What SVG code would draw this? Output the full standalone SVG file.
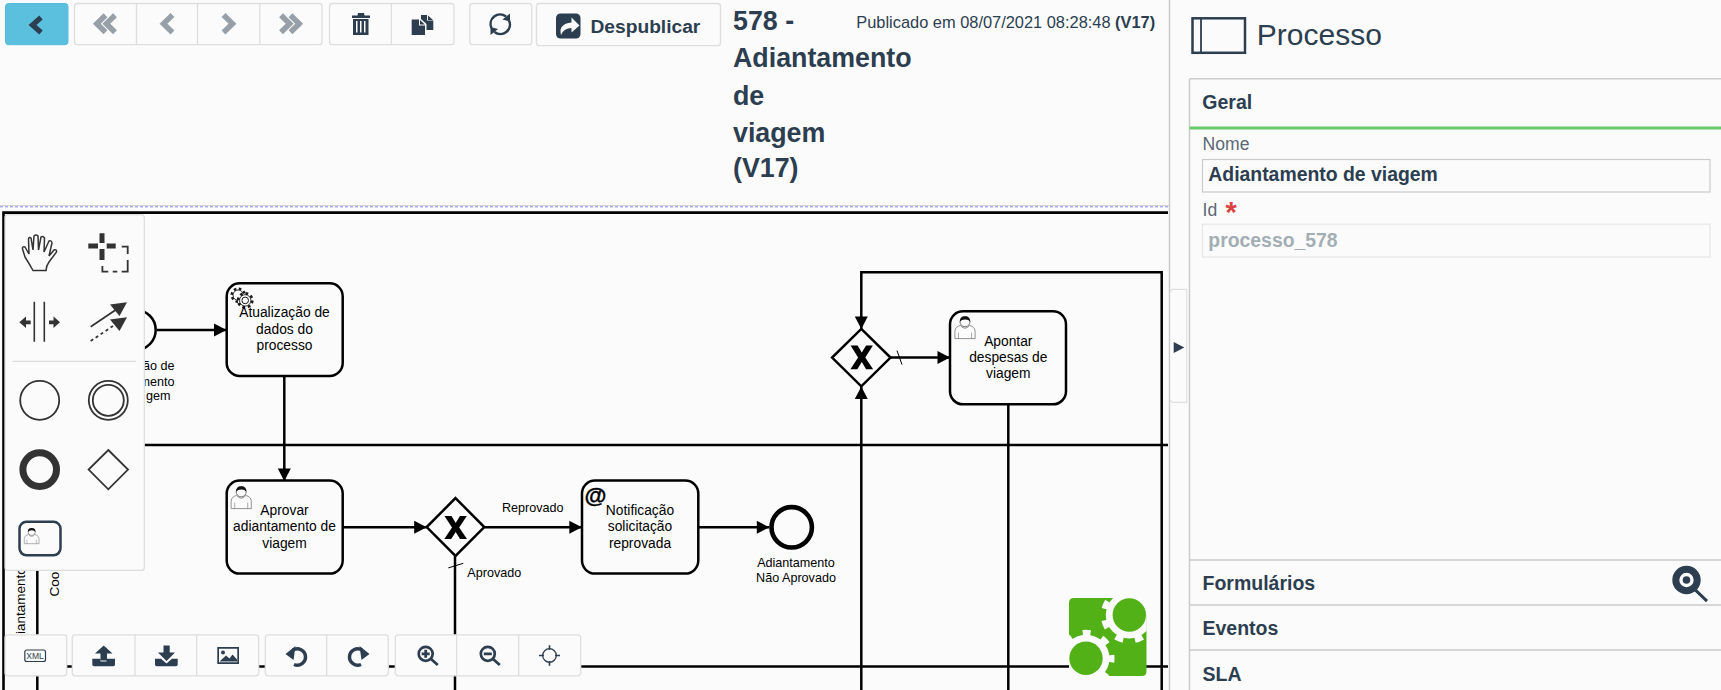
<svg xmlns="http://www.w3.org/2000/svg" width="1721" height="690" viewBox="0 0 1721 690">
<style>
text{font-family:"Liberation Sans",Arial,sans-serif;fill:#000}
.conn{fill:none;stroke:#000;stroke-width:2.5}
.thin{fill:none;stroke:#000;stroke-width:1}
.arr{marker-end:url(#arrow)}
.task{fill:#fbfbfb;stroke:#000;stroke-width:2.5}
.t{font-size:13.8px;text-anchor:middle}
.l{font-size:12.6px}
.lc{font-size:12.6px;text-anchor:middle}
.btn{fill:#fbfbfb;stroke:#dedede;stroke-width:1.3}
.div{stroke:#dedede;stroke-width:1.3}
.dark{fill:#2c3e50}
.dl{fill:none;stroke:#2c3e50}
.gray{fill:none;stroke:#97a0a8;stroke-width:5.5}
.nav{fill:none;stroke:#2c3e50;stroke-width:5.2}
.sec{font-size:19.5px;font-weight:bold;fill:#2c3e50}
.lab{font-size:17.6px;fill:#5b6875}
.title{font-size:26.8px;font-weight:bold;fill:#2c3e50}
.pline{stroke:#cbcbcb;stroke-width:1.5}
.pal{fill:none;stroke:#333;stroke-width:1.8}
</style>
<defs>
<marker id="arrow" markerUnits="userSpaceOnUse" markerWidth="13" markerHeight="14" viewBox="0 0 13 14" refX="13" refY="7" orient="auto"><path d="M0.5 0.5L13 7L0.5 13.5Z" fill="#000"/></marker>
<g id="person">
<path d="M0.4 23V15.5Q0.8 11 6 9.8L7.5 11.5Q10.5 14 13.5 11.5L15 9.8Q20.2 11 20.6 15.5V23Z" fill="#fbfbfb" stroke="#777" stroke-width=".8"/>
<path d="M4 23V17M17 23V17" stroke="#777" stroke-width=".6" fill="none"/>
<circle cx="10.5" cy="6.2" r="5" fill="#fbfbfb" stroke="#555" stroke-width=".8"/>
<path d="M5.4 6.2Q5 .6 10.5 .6Q16 .6 15.6 6.2Q14 3.6 10.5 3.8Q7 3.8 5.4 6.2Z" fill="#111"/>
</g>
<g id="chev2"><path d="M11.5 2.3L2.8 10.8L11.5 19.3M21 2.3L12.3 10.8L21 19.3"/></g>
<clipPath id="logoClip"><rect x="1069" y="598" width="77.7" height="78"/></clipPath>
</defs>
<rect width="1721" height="690" fill="#fbfbfb"/>

<g id="canvas-top">
<line x1="0" y1="205.5" x2="1169" y2="205.5" stroke="#d4d4d4" stroke-width="1"/>
<line x1="0" y1="206.8" x2="1169" y2="206.8" stroke="#8585ff" stroke-width="1" stroke-dasharray="3 2"/>
</g>

<g transform="translate(0,.6)">
<g id="canvas-frame">
<path d="M3.5 690V212H1168" fill="none" stroke="#000" stroke-width="2.6"/>
<line x1="37.3" y1="212" x2="37.3" y2="690" stroke="#000" stroke-width="2.5"/>
<line x1="37" y1="444.3" x2="1168" y2="444.3" stroke="#000" stroke-width="2.5"/>
<line x1="37" y1="666" x2="1168" y2="666" stroke="#000" stroke-width="2.5"/>
<text transform="translate(25,633.5) rotate(-90)" font-size="13.5">iantamento</text>
<text transform="translate(59.3,596) rotate(-90)" font-size="13.5">Coo</text>
</g>

<g id="connectors">
<path class="conn arr" d="M157 329.3H226.5"/>
<path class="conn arr" d="M284.3 375.3V480.5"/>
<path class="conn arr" d="M342.7 526.7H426.7"/>
<path class="conn arr" d="M484.3 526.7H581.8"/>
<path class="conn arr" d="M698.3 526.7H769.3"/>
<path class="conn" d="M455 555.3V690"/>
<path class="thin" d="M448.3 567.3L463.3 562.7"/>
<path class="conn arr" d="M1161.7 690V271.7H861.3V328.3"/>
<path class="conn arr" d="M861.3 690V386"/>
<path class="conn arr" d="M890.7 357H950"/>
<path class="thin" d="M897 350L902 364"/>
<path class="conn" d="M1008.3 403.7V690"/>
</g>

<g id="start-event">
<circle cx="135.7" cy="329.3" r="20" fill="#fbfbfb" stroke="#000" stroke-width="2.5"/>
<text class="l" x="174.5" y="369.3" text-anchor="end">ão de</text>
<text class="l" x="174.5" y="385" text-anchor="end">mento</text>
<text class="l" x="170.5" y="399.7" text-anchor="end">gem</text>
</g>

<g id="task-atualizacao">
<rect class="task" x="226.7" y="282.7" width="116" height="92.6" rx="13"/>
<circle cx="238.2" cy="294.6" r="6.4" fill="#fbfbfb" stroke="#1a1a1a" stroke-width="2.6" stroke-dasharray="2.5 2.5"/>
<circle cx="238.2" cy="294.6" r="5.2" fill="#fbfbfb" stroke="#1a1a1a" stroke-width=".9"/>
<circle cx="245.2" cy="299.8" r="7" fill="#fbfbfb" stroke="#1a1a1a" stroke-width="2.8" stroke-dasharray="2.75 2.75"/>
<circle cx="245.2" cy="299.8" r="5.7" fill="#fbfbfb" stroke="#1a1a1a" stroke-width=".9"/>
<circle cx="245.2" cy="299.8" r="3.3" fill="#fbfbfb" stroke="#1a1a1a" stroke-width="1"/>
<text class="t" x="284.5" y="316.7">Atualização de</text>
<text class="t" x="284.5" y="333.3">dados do</text>
<text class="t" x="284.5" y="349.3">processo</text>
</g>

<g id="task-aprovar">
<rect class="task" x="226.7" y="480" width="116" height="93" rx="13"/>
<use href="#person" x="230.7" y="485"/>
<text class="t" x="284.5" y="514">Aprovar</text>
<text class="t" x="284.5" y="530.7">adiantamento de</text>
<text class="t" x="284.5" y="547.3">viagem</text>
</g>

<g id="gateway-aprovacao">
<path d="M455.5 497.5L484.3 526.5L455.5 555.3L426.7 526.5Z" fill="#fbfbfb" stroke="#000" stroke-width="2.5"/>
<path d="M444.5 515.5H451.5L455.7 522.3L460 515.5H466.8L459.2 526.8L467 538.5H460L455.7 531.3L451.2 538.5H444.3L452 526.8Z" fill="#000"/>
<text class="l" x="502" y="511">Reprovado</text>
<text class="l" x="467.3" y="576">Aprovado</text>
</g>

<g id="task-notificacao">
<rect class="task" x="582" y="480" width="116.3" height="93" rx="13"/>
<text x="584.5" y="502.5" font-size="22.5" font-weight="bold" stroke="#000" stroke-width=".4">@</text>
<text class="t" x="640" y="514">Notificação</text>
<text class="t" x="640" y="530.7">solicitação</text>
<text class="t" x="640" y="547.3">reprovada</text>
</g>

<g id="end-event">
<circle cx="791.7" cy="526.7" r="20.2" fill="#fbfbfb" stroke="#000" stroke-width="4.6"/>
<text class="lc" x="796" y="566.7">Adiantamento</text>
<text class="lc" x="796" y="581.7">Não Aprovado</text>
</g>

<g id="gateway-despesas">
<path d="M861.3 328.3L890.5 357L861.3 385.7L832.1 357Z" fill="#fbfbfb" stroke="#000" stroke-width="2.5"/>
<path d="M850.6 345H857.6L861.8 352L866.1 345H872.9L865.3 356.8L873.1 368.7H866.1L861.8 361.5L857.3 368.7H850.4L858.1 356.8Z" fill="#000"/>
</g>

<g id="task-apontar">
<rect class="task" x="950" y="310.7" width="116" height="93" rx="13"/>
<use href="#person" x="954.5" y="315"/>
<text class="t" x="1008.3" y="345">Apontar</text>
<text class="t" x="1008.3" y="361">despesas de</text>
<text class="t" x="1008.3" y="377.7">viagem</text>
</g>
</g>

<g id="logo" clip-path="url(#logoClip)">
<path d="M1074 598H1129.300V615H1146.700V671Q1146.700 676 1141.700 676H1086V658.300H1069V603Q1069 598 1074 598Z" fill="#52b116"/>
<circle cx="1129.300" cy="615" r="23.500" fill="#fbfbfb"/>
<circle cx="1129.300" cy="615" r="25.500" fill="none" stroke="#fbfbfb" stroke-width="6" stroke-dasharray="8 12" stroke-dashoffset="14"/>
<circle cx="1129.300" cy="615" r="16.700" fill="#52b116"/>
<circle cx="1086" cy="658.300" r="23.500" fill="#fbfbfb"/>
<circle cx="1086" cy="658.300" r="25.500" fill="none" stroke="#fbfbfb" stroke-width="6" stroke-dasharray="8 12" stroke-dashoffset="4"/>
<circle cx="1086" cy="658.300" r="16.700" fill="#52b116"/>
</g>

<g id="palette">
<rect x="5" y="214.700" width="139.300" height="355.700" rx="3" fill="#fbfbfb" stroke="#dcdcdc" stroke-width="1.200"/>
<path class="pal" d="M42 270.500H33Q30 265 25 257L22.500 249Q22 246 25 247L29 254L28.500 239Q29 236.500 31 238L33 250L34 236Q36 234 38 236L38.500 250L41 237Q43 235.500 44.500 238L44 252L49 241Q51.500 240 52 243L49 256L54 250Q57 249 56.500 252L49 262Q46 266 46 270.500Z" style="stroke-width:1.500"/>
<path d="M88.300 246H98M106.700 246H115.700M102 233.300V243M102 249V260" stroke="#333" stroke-width="5" fill="none"/>
<path d="M121.700 246.700H127.700V254M127.700 260V271.700H121.700M117.300 271.700H112.700M108.300 271.700H102.400V266" fill="none" stroke="#333" stroke-width="1.800"/>
<path d="M34.300 301.700V341.700M44.300 301.700V341.700" stroke="#333" stroke-width="1.600"/>
<path d="M19.300 322.300L26 316.500V320.500H30.700V324.200H26V328Z M60 322.300L53.500 316.500V320.500H49V324.200H53.500V328Z" fill="#333"/>
<path d="M90.700 326.700L117 309" stroke="#333" stroke-width="1.800"/>
<path d="M127 302.300L119.500 316L110 304.500Z" fill="#333"/>
<path d="M90.700 341L113 326" stroke="#333" stroke-width="1.800" stroke-dasharray="3 3"/>
<path d="M127 317.300L119.500 331L110 319.500Z" fill="#333"/>
<line x1="12.700" y1="361.300" x2="136" y2="361.300" stroke="#dcdcdc" stroke-width="1.200"/>
<circle class="pal" cx="39.700" cy="400.300" r="19.500"/>
<circle class="pal" cx="108.300" cy="400.300" r="19.500"/>
<circle class="pal" cx="108.300" cy="400.300" r="15.500"/>
<circle cx="39.700" cy="469.600" r="16.800" fill="none" stroke="#333" stroke-width="7"/>
<path class="pal" d="M108.300 450L128 469.600L108.300 489.300L88.600 469.600Z"/>
<rect x="19.500" y="521.800" width="41" height="33.500" rx="7" fill="none" stroke="#2c3e50" stroke-width="2.500"/>
<use href="#person" transform="translate(24,527.600) scale(.73,.7)"/>
</g>

<g id="toolbar-bottom" transform="translate(0,.5)">
<rect class="btn" x="5" y="634.300" width="61.700" height="41" rx="3"/>
<rect x="24.800" y="649.500" width="20.700" height="11.500" rx="2" fill="none" stroke="#2c3e50" stroke-width="1.200"/>
<text x="35.100" y="658.300" font-size="8.500" text-anchor="middle" style="fill:#2c3e50">XML</text>
<rect class="btn" x="72.300" y="634.300" width="186.400" height="41" rx="3"/>
<path class="div" d="M135 634.300V675.300M196.700 634.300V675.300"/>
<g class="dark">
<path d="M92.300 658.300H100.500V661H106.500V658.300H115V664Q115 665.700 113.300 665.700H94Q92.300 665.700 92.300 664Z"/>
<path d="M103.700 645L112.500 653H107V660H100.500V653H95Z"/>
<path d="M155 658.300H161L166.500 663L172 658.300H177.700V664Q177.700 665.700 176 665.700H156.700Q155 665.700 155 664Z"/>
<path d="M163.500 645H169.700V652H175L166.500 660.500L158 652H163.500Z"/>
<path fill-rule="evenodd" d="M217.300 646.500H239V663.500H217.300Z M219 648.300V661.700H237.300V648.300Z"/>
<circle cx="223" cy="652" r="2"/>
<path d="M219.500 661L226 655L229.500 658L232.500 654L237 659V661Z"/>
</g>
<rect class="btn" x="265.300" y="634.300" width="123" height="41" rx="3"/>
<path class="div" d="M326.700 634.300V675.300"/>
<path class="dl" style="stroke-width:3.500" d="M294 664A8.200 8.200 0 1 0 293 649.500"/>
<path class="dark" d="M295.500 645.500L285.500 653.500L293.500 659.500Z"/>
<path class="dl" style="stroke-width:3.500" d="M361 664A8.200 8.200 0 1 1 362 649.500"/>
<path class="dark" d="M359.500 645.500L369.500 653.500L361.500 659.500Z"/>
<rect class="btn" x="395.300" y="634.300" width="185.400" height="41" rx="3"/>
<path class="div" d="M456.700 634.300V675.300M518.700 634.300V675.300"/>
<circle class="dl" style="stroke-width:2.700" cx="425.700" cy="653.300" r="7"/>
<path class="dl" style="stroke-width:2.800" d="M431 658.500L437.800 664.500M421.700 653.300H429.700M425.700 649.300V657.300"/>
<circle class="dl" style="stroke-width:2.700" cx="487.800" cy="653.300" r="7"/>
<path class="dl" style="stroke-width:2.800" d="M493 658.500L499.800 664.500M483.800 653.300H491.800"/>
<circle class="dl" style="stroke-width:1.300" cx="549.500" cy="655" r="6.800"/>
<path class="dl" style="stroke-width:1.600" d="M539 655H544M555 655H560M549.500 644.700V649.500M549.500 660.500V665.300"/>
</g>

<g id="toolbar-top">
<rect x="5.500" y="3.500" width="62.500" height="41.200" rx="3" fill="#5bc0de" stroke="#55bcdb"/>
<path class="nav" d="M41 17.500L32.500 25L41 32.500"/>
<rect class="btn" x="74.500" y="3.500" width="247.500" height="41.200" rx="3"/>
<path class="div" d="M136.500 3.500V44.700M197.500 3.500V44.700M259.800 3.500V44.700"/>
<g class="gray">
<use href="#chev2" x="94" y="13"/>
<path d="M172.500 15L163.500 23.700L172.500 32.400"/>
<path d="M223.500 15L232.500 23.700L223.500 32.400"/>
<use href="#chev2" transform="translate(302,13) scale(-1,1)"/>
</g>
<rect class="btn" x="329.500" y="3.500" width="124.500" height="41.200" rx="3"/>
<path class="div" d="M391.400 3.500V44.700"/>
<g class="dark">
<path d="M358 13H364L364.500 15.500H370V18H352V15.500H357.500Z"/>
<path fill-rule="evenodd" d="M353 19H368.500V35H353Z M356 21V32.500H357.500V21Z M360 21V32.500H361.500V21Z M364 21V32.500H365.500V21Z"/>
<path d="M421 15H427L427 20.500H433.300V30H426.500V24L421 19Z"/>
<path d="M428 15.500L433 20H428Z"/>
<path d="M411.700 19.500H419L419 25.500H425V35H411.700Z"/>
<path d="M420 20L424.800 24.500H420Z"/>
</g>
<rect class="btn" x="469.800" y="3.500" width="62" height="41.200" rx="3"/>
<path class="dl" style="stroke-width:2.500" d="M491.500 28A9.500 9.500 0 0 1 506 16.500"/>
<path class="dl" style="stroke-width:2.500" d="M509 20.500A9.500 9.500 0 0 1 494.500 32"/>
<path class="dark" d="M510 13.500V21.500L502.500 19.500Z M490.500 35V27L498 29Z"/>
<rect class="btn" x="536.500" y="3.500" width="184" height="42.200" rx="3"/>
<rect class="dark" x="556" y="13.500" width="24.500" height="25" rx="4.500"/>
<path d="M561 35Q558 24 571.500 22.500V17.500L579.500 25.500L571.500 32.500V28Q564 28 561 35Z" fill="#fbfbfb"/>
<text x="590.500" y="32.700" font-size="19.200" font-weight="bold" style="fill:#2c3e50">Despublicar</text>
</g>

<g id="header-title">
<text class="title" x="733" y="30">578 -</text>
<text class="title" x="733" y="67">Adiantamento</text>
<text class="title" x="733" y="104.500">de</text>
<text class="title" x="733" y="141.500">viagem</text>
<text class="title" x="733" y="177">(V17)</text>
<text x="856.300" y="28.300" font-size="16.400" style="fill:#2c3e50">Publicado em 08/07/2021 08:28:48 <tspan font-weight="bold">(V17)</tspan></text>
</g>

<g id="side-panel">
<line class="pline" x1="1169.500" y1="0" x2="1169.500" y2="690"/>
<line class="pline" x1="1189.500" y1="78.700" x2="1189.500" y2="690"/>
<path d="M1170.700 292Q1170.700 289.300 1173 289.300H1186.700V402.300H1173Q1170.700 402.300 1170.700 400" fill="#fbfbfb" stroke="#e0e0e0" stroke-width="1.200"/>
<path class="dark" d="M1173.700 342V353L1184.300 347.500Z"/>
<rect x="1192.500" y="18.300" width="52.500" height="34.500" fill="none" stroke="#2c3e50" stroke-width="2.500"/>
<line x1="1201" y1="18" x2="1201" y2="53" stroke="#2c3e50" stroke-width="1.800"/>
<text x="1256.800" y="45" font-size="30" style="fill:#2c3e50">Processo</text>
<line class="pline" x1="1189.500" y1="78.700" x2="1721" y2="78.700"/>
<g transform="translate(0,.7)">
<text class="sec" x="1202.300" y="108.300">Geral</text>
<line x1="1189.500" y1="127.300" x2="1721" y2="127.300" stroke="#68cc68" stroke-width="3"/>
<text class="lab" x="1202.600" y="149.500">Nome</text>
<rect x="1202.500" y="158.800" width="507.500" height="32.500" fill="#fbfbfb" stroke="#cbcbcb" stroke-width="1.200"/>
<text x="1208.300" y="180.700" font-size="19.400" font-weight="bold" style="fill:#2c3e50">Adiantamento de viagem</text>
<text class="lab" x="1202.600" y="215">Id</text>
<text x="1225.500" y="221" font-size="29" font-weight="bold" style="fill:#d9433f">*</text>
<rect x="1202.500" y="223.500" width="507.500" height="32.800" fill="#fbfbfb" stroke="#e6e6e6" stroke-width="1.200"/>
<text x="1208.300" y="246.700" font-size="19.400" font-weight="bold" style="fill:#a3adb4">processo_578</text>
<line class="pline" x1="1189.500" y1="559.300" x2="1721" y2="559.300"/>
<text class="sec" x="1202.500" y="589.300">Formulários</text>
<circle cx="1686.500" cy="579.300" r="10.700" fill="#fbfbfb" stroke="#2c3e50" stroke-width="7"/>
<circle class="dark" cx="1686.500" cy="579.300" r="3.800"/>
<line x1="1695" y1="589" x2="1707" y2="600.500" stroke="#2c3e50" stroke-width="3"/>
<line class="pline" x1="1189.500" y1="604.300" x2="1721" y2="604.300"/>
<text class="sec" x="1202.500" y="634.700">Eventos</text>
<line class="pline" x1="1189.500" y1="649.300" x2="1721" y2="649.300"/>
<text class="sec" x="1202.500" y="680">SLA</text>
</g>
</g>
</svg>
